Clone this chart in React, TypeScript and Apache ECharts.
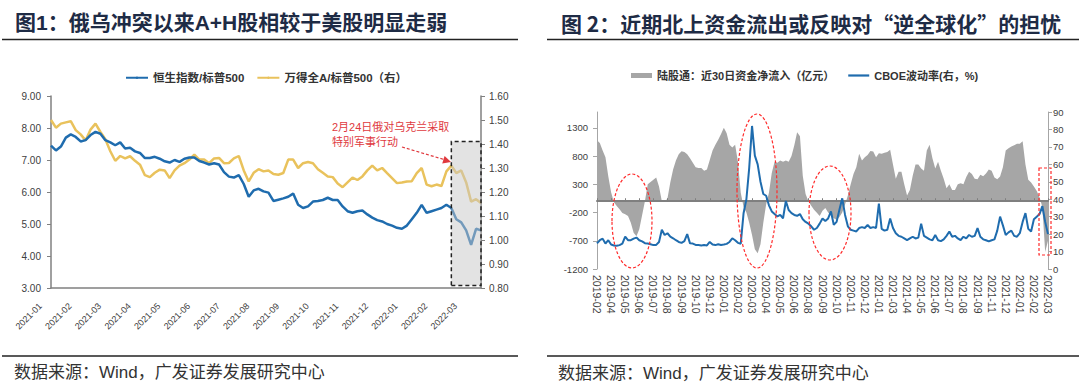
import React, { useEffect, useRef } from 'react';
import * as echarts from 'echarts';

// ---------- data ----------
const leftTicks = ['2021-01','2021-02','2021-03','2021-04','2021-05','2021-06','2021-07','2021-08','2021-09','2021-10','2021-11','2021-12','2022-01','2022-02','2022-03'];

const hsiSpx = [
  7.45, 7.30, 7.42, 7.70, 7.80, 7.72, 7.58, 7.62, 7.78, 7.88, 7.82, 7.62,
  7.55, 7.46, 7.55, 7.36, 7.38, 7.27, 7.22, 7.06, 7.06, 7.10, 7.04, 6.96,
  6.92, 7.00, 6.94, 7.04, 7.08, 7.08, 6.97, 6.92, 6.86, 6.90, 6.86, 6.62,
  6.48, 6.45, 6.53, 6.25, 5.85, 6.05, 6.10, 6.02, 5.98, 5.72, 5.76, 5.80,
  5.85, 5.95, 5.60, 5.50, 5.55, 5.70, 5.72, 5.75, 5.82, 5.75, 5.75, 5.55,
  5.40, 5.35, 5.40, 5.42, 5.30, 5.20, 5.12, 5.08, 5.00, 4.95, 4.88, 4.85,
  4.95, 5.15, 5.35, 5.60, 5.35, 5.40, 5.45, 5.50, 5.60, 5.50, 5.15, 5.05,
  4.80, 4.35, 4.85, 4.80,
];

const windASpx = [
  1.500, 1.468, 1.485, 1.490, 1.495, 1.458, 1.440, 1.415, 1.460, 1.485, 1.450, 1.420,
  1.370, 1.330, 1.350, 1.340, 1.349, 1.330, 1.314, 1.270, 1.262, 1.280, 1.293, 1.290,
  1.258, 1.290, 1.310, 1.320, 1.335, 1.356, 1.335, 1.335, 1.320, 1.340, 1.342, 1.320,
  1.321, 1.340, 1.350, 1.290, 1.244, 1.280, 1.295, 1.286, 1.290, 1.275, 1.272, 1.279,
  1.335, 1.335, 1.300, 1.320, 1.325, 1.320, 1.295, 1.280, 1.265, 1.262, 1.235, 1.220,
  1.240, 1.260, 1.250, 1.265, 1.290, 1.310, 1.290, 1.300, 1.279, 1.258, 1.237, 1.240,
  1.244, 1.245, 1.279, 1.300, 1.231, 1.224, 1.231, 1.225, 1.286, 1.310, 1.279, 1.290,
  1.240, 1.160, 1.170, 1.154,
];

const rightTicks = ['2019-02','2019-04','2019-05','2019-06','2019-07','2019-08','2019-09','2019-10','2019-12',
  '2020-01','2020-02','2020-03','2020-04','2020-05','2020-06','2020-08','2020-09','2020-10','2020-11','2020-12',
  '2021-01','2021-03','2021-04','2021-05','2021-06','2021-07','2021-08','2021-09','2021-11','2021-12',
  '2022-01','2022-02','2022-03'];

const northFlow = [
  1080, 1030, 900, 780, 443, 160, -20, -85, -140, -210,
  -232, -260, -380, -560, -620, -496, -250, 0, 300, 340,
  380, 420, 260, 0, -15, 50, 330, 560, 720, 830,
  883, 870, 830, 760, 680, 600, 590, 590, 540, 560,
  730, 900, 1000, 1090, 1190, 1300, 1205, 1000, 950, 1000,
  700, 150, -100, -200, -380, -600, -850, -920, -760, -380,
  -60, 150, 500, 700, 680, 720, 700, 720, 700, 800,
  990, 1220, 1150, 450, 130, 0, -80, -150, -205, -260,
  -170, -120, -200, -250, -300, -330, -280, -200, -60, 100,
  300, 480, 600, 840, 720, 780, 820, 890, 880, 780,
  850, 840, 860, 870, 910, 650, 400, 520, 520, 300,
  100, 200, 450, 650, 650, 580, 540, 900, 1000, 760,
  580, 700, 540, 400, 230, 300, 200, 200, 300, 320,
  300, 430, 520, 480, 400, 390, 470, 443, 490, 560,
  540, 420, 390, 440, 600, 900, 940, 970, 990, 1020,
  1020, 1060, 650, 380, 330, 260, 180, 70, -100, -900, -700,
];

const cboeVix = [
  14.7, 16.5, 17.4, 14.6, 16.5, 14.0, 13.5, 13.3, 13.7, 14.5,
  18.6, 16.5, 16.5, 17.4, 18.0, 16.5, 15.8, 14.8, 14.6, 14.2,
  13.7, 13.8, 15.5, 22.5, 19.5, 20.5, 18.6, 17.6, 16.5, 15.5,
  15.0, 16.0, 20.0, 14.7, 14.6, 13.8, 13.7, 13.5, 13.7, 13.5,
  15.5, 14.0, 13.7, 14.2, 13.8, 14.0, 14.4, 15.5, 17.6, 16.5,
  15.0, 14.5, 32, 40, 58, 82, 65, 60, 50, 43,
  42, 36.5, 33, 31.5, 30.1, 31, 29.1, 39, 33.8, 32,
  31, 30.5, 31.5, 28.5, 27, 26, 24.5, 22.5, 23.5, 26,
  29, 27.5, 29, 33, 25.4, 27, 34, 40.5, 31, 24.5,
  22.5, 22, 21.5, 23.5, 24, 23.5, 25.2, 23.5, 24, 23.5,
  37.5, 23, 22, 22.5, 29, 23.5, 20.5, 19, 18.5, 17.5,
  16.5, 17.5, 18.5, 17.5, 18, 26, 19, 18, 17, 16.5,
  19.5, 16.5, 16, 17, 19, 21.5, 18.5, 19, 17.5, 16.5,
  18.5, 17.5, 19.5, 18.5, 19, 23.4, 18.5, 17, 16.5, 15.8,
  16.5, 17, 22, 30, 25, 19.5, 21, 22, 19, 18.5,
  20.5, 27, 32, 23, 21.5, 28.5, 30, 31.5, 36, 27, 20,
];

const flowTicks = [-1200, -700, -200, 300, 800, 1300];

const NAME_HSI = '恒生指数/标普500';
const NAME_WIND = '万得全A/标普500（右）';
const NAME_FLOW = '陆股通：近30日资金净流入（亿元）';
const NAME_VIX = 'CBOE波动率(右，%)';

const LEFT_PER = 6;
const RIGHT_PER = 5;

const makeCats = (n: number, ticks: string[], per: number) =>
  Array.from({ length: n }, (_, i) => {
    const t = ticks[Math.min(Math.floor(i / per), ticks.length - 1)];
    return i % per === 0 && ticks[i / per] ? t : `${t}·${i % per}`;
  });

const leftCats = makeCats(hsiSpx.length, leftTicks, LEFT_PER);
const rightCats = makeCats(northFlow.length, rightTicks, RIGHT_PER);

// ---------- styles ----------
const FONT = '"Liberation Sans", Arial, "Noto Sans CJK SC", sans-serif';
const CJK_FONT = '"Noto Sans CJK SC", "Liberation Sans", sans-serif';
const BLUE = '#1f6cae';
const YELLOW = '#e9c25c';
const GREY_AREA = '#a6a6a6';
const RED = '#ff2b2b';
const RED_TXT = '#e0393e';
const TITLE = '#1e2b45';
const LABEL = '#404040';

const catFmt = (v: string) => (v.includes('·') ? '' : v);

const txt = (text: string, x: number, y: number, size: number, extra: any = {}) => ({
  type: 'text', x, y, z: 100, silent: true,
  style: { text, fontSize: size, fontFamily: FONT, fill: '#333', align: 'left', verticalAlign: 'middle', ...extra },
});
const hline = (x1: number, x2: number, y: number, w: number, color: string) => ({
  type: 'line', z: 100, silent: true,
  shape: { x1, y1: y, x2, y2: y }, style: { stroke: color, lineWidth: w },
});
const dashStyle = { fill: 'none', stroke: RED, lineWidth: 1.2, lineDash: [3, 2] };

export default function App() {
  const ref = useRef<HTMLDivElement>(null);
  useEffect(() => {
    if (!ref.current) return;
    const chart = echarts.init(ref.current, undefined, { renderer: 'svg' });
    const option: any = {
      animation: false,
      backgroundColor: '#ffffff',
      textStyle: { fontFamily: FONT },
      grid: [
        { left: 51, top: 96, width: 430, height: 192 },
        { left: 597, top: 112, width: 451, height: 157 },
      ],
      legend: [
        {
          left: 120, top: 67, itemWidth: 22, itemHeight: 3, itemGap: 12,
          textStyle: { fontSize: 11.5, fontWeight: 'bold', color: '#333' },
          data: [NAME_HSI, NAME_WIND],
        },
        {
          left: 626, top: 65, itemWidth: 21, itemHeight: 5, itemGap: 14, symbolKeepAspect: true,
          textStyle: { fontSize: 11, fontWeight: 'bold', color: '#333' },
          data: [
            { name: NAME_FLOW, icon: 'rect' },
            { name: NAME_VIX, icon: 'path://M0,0L22,0L22,2.3L0,2.3Z' },
          ],
        },
      ],
      xAxis: [
        {
          gridIndex: 0, type: 'category', data: leftCats, boundaryGap: false,
          axisLine: { lineStyle: { color: '#808080', width: 1.5 } },
          axisTick: { show: false },
          axisLabel: {
            interval: (i: number) => i % LEFT_PER === 0, formatter: catFmt,
            rotate: 45, fontSize: 9, color: LABEL, margin: 6, padding: [0, 15, 0, 0],
          },
        },
        {
          gridIndex: 1, type: 'category', data: rightCats, boundaryGap: false, position: 'bottom',
          axisLine: { show: false, onZero: false },
          axisTick: { show: false },
          axisLabel: {
            interval: (i: number) => i % RIGHT_PER === 0, formatter: catFmt,
            rotate: -90, fontSize: 10.5, color: LABEL, margin: 6,
          },
        },
        {
          gridIndex: 1, type: 'category', data: rightCats, boundaryGap: false, position: 'bottom', z: 3,
          axisLine: { show: true, onZero: true, onZeroAxisIndex: 2, lineStyle: { color: '#7f7f7f', width: 2 } },
          axisTick: { show: true, inside: true, length: 3, interval: (i: number) => i % RIGHT_PER === 0, lineStyle: { color: '#7f7f7f' } },
          axisLabel: { show: false },
        },
      ],
      yAxis: [
        {
          gridIndex: 0, type: 'value', min: 3, max: 9, interval: 1, position: 'left',
          axisLine: { show: true, lineStyle: { color: '#808080', width: 1.5 } },
          axisTick: { show: true, length: 4, lineStyle: { color: '#808080' } },
          splitLine: { show: false },
          axisLabel: { formatter: (v: number) => v.toFixed(2), fontSize: 10, color: LABEL, margin: 10 },
        },
        {
          gridIndex: 0, type: 'value', min: 0.8, max: 1.6, interval: 0.1, position: 'right',
          axisLine: { show: true, lineStyle: { color: '#808080', width: 1.5 } },
          axisTick: { show: true, length: 4, lineStyle: { color: '#808080' } },
          splitLine: { show: false },
          axisLabel: { formatter: (v: number) => v.toFixed(2), fontSize: 10, color: LABEL, margin: 8 },
        },
        {
          gridIndex: 1, type: 'value', min: -1200, max: 1580, position: 'left',
          axisLine: { show: true, lineStyle: { color: '#a6a6a6', width: 1 } },
          axisTick: { show: true, length: 4, customValues: flowTicks, lineStyle: { color: '#a6a6a6' } },
          splitLine: { show: false },
          axisLabel: { customValues: flowTicks, formatter: (v: number) => String(v), fontSize: 9.5, color: LABEL, margin: 9 },
        },
        {
          gridIndex: 1, type: 'value', min: 0, max: 90, interval: 10, position: 'right',
          axisLine: { show: true, lineStyle: { color: '#a6a6a6', width: 1 } },
          axisTick: { show: true, length: 4, lineStyle: { color: '#a6a6a6' } },
          splitLine: { show: false },
          axisLabel: { fontSize: 9.5, color: LABEL, margin: 5 },
        },
      ],
      series: [
        {
          name: NAME_HSI, type: 'line', xAxisIndex: 0, yAxisIndex: 0, data: hsiSpx,
          symbol: 'none', z: 3, lineStyle: { color: BLUE, width: 2.5 }, itemStyle: { color: BLUE },
        },
        {
          name: NAME_WIND, type: 'line', xAxisIndex: 0, yAxisIndex: 1, data: windASpx,
          symbol: 'none', z: 2, lineStyle: { color: YELLOW, width: 2.5 }, itemStyle: { color: YELLOW },
          markArea: {
            silent: true, z: 10,
            itemStyle: { color: 'rgba(200,200,200,0.5)', borderColor: '#222', borderWidth: 1.5, borderType: [4, 3] },
            data: [[{ xAxis: leftCats[81], yAxis: 0.81 }, { xAxis: leftCats[leftCats.length - 1], yAxis: 1.41 }]],
          },
        },
        {
          name: NAME_FLOW, type: 'line', xAxisIndex: 1, yAxisIndex: 2, data: northFlow,
          symbol: 'none', z: 2, lineStyle: { width: 0 }, areaStyle: { color: GREY_AREA, opacity: 1 },
          itemStyle: { color: GREY_AREA },
        },
        {
          name: NAME_VIX, type: 'line', xAxisIndex: 1, yAxisIndex: 3, data: cboeVix,
          symbol: 'none', z: 5, lineStyle: { color: BLUE, width: 2 }, itemStyle: { color: BLUE },
        },
      ],
      graphic: {
        elements: [
          txt('图1：俄乌冲突以来A+H股相较于美股明显走弱', 15, 22, 21, { fontWeight: 'bold', fill: TITLE }),
          txt('图 2：近期北上资金流出或反映对“逆全球化”的担忧', 561, 23, 21, { fontWeight: 'bold', fill: TITLE, fontFamily: CJK_FONT }),
          hline(2, 518, 39.5, 1.5, '#222'),
          hline(547, 1079, 39.5, 1.5, '#222'),
          hline(2, 518, 356, 1.5, '#222'),
          hline(547, 1079, 356, 1.5, '#222'),
          txt('数据来源：Wind，广发证券发展研究中心', 14, 372, 17, { fill: '#333' }),
          txt('数据来源：Wind，广发证券发展研究中心', 558, 373, 17, { fill: '#333' }),
          txt('2月24日俄对乌克兰采取', 332, 127, 11, { fill: RED_TXT }),
          txt('特别军事行动', 332, 142, 11, { fill: RED_TXT }),
          { type: 'line', z: 100, silent: true, shape: { x1: 402, y1: 147, x2: 444, y2: 159.5 }, style: { stroke: RED_TXT, lineWidth: 1.2, lineDash: [3, 2] } },
          { type: 'polygon', z: 100, silent: true, shape: { points: [[451, 162], [442.2, 163.5], [444.6, 155.9]] }, style: { fill: RED_TXT } },
          { type: 'ellipse', z: 100, silent: true, shape: { cx: 632, cy: 221, rx: 20, ry: 47 }, style: dashStyle },
          { type: 'ellipse', z: 100, silent: true, shape: { cx: 757, cy: 191, rx: 20, ry: 77 }, style: dashStyle },
          { type: 'ellipse', z: 100, silent: true, shape: { cx: 830, cy: 213, rx: 21, ry: 47 }, style: dashStyle },
          { type: 'rect', z: 100, silent: true, shape: { x: 1039, y: 168, width: 12, height: 87 }, style: dashStyle },
        ],
      },
    };
    chart.setOption(option);
    return () => chart.dispose();
  }, []);
  return <div ref={ref} style={{ position: 'absolute', left: 0, top: 0, width: 1080, height: 384 }} />;
}
